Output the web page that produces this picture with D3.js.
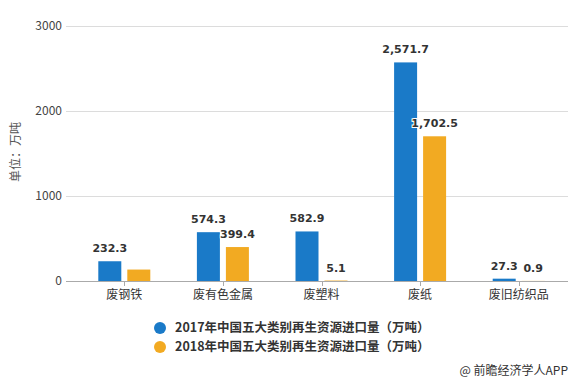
<!DOCTYPE html>
<html><head><meta charset="utf-8">
<script src="https://cdn.jsdelivr.net/npm/d3@7"></script>
<style>body{margin:0;background:#fff}svg{display:block}</style>
</head><body>
<svg id="c" width="581" height="387"></svg>
<script>
const categories = ["废钢铁","废有色金属","废塑料","废纸","废旧纺织品"];
const values2017 = [232.3, 574.3, 582.9, 2571.7, 27.3];
const values2018 = [134.6, 399.4, 5.1, 1702.5, 0.9];
const show2018Label = [false, true, true, true, true];
const seriesNames = ["2017年中国五大类别再生资源进口量（万吨）","2018年中国五大类别再生资源进口量（万吨）"];
const yTicks = [0, 1000, 2000, 3000];
const colors = ["#1a7ac8", "#f2aa22"];

const svg = d3.select("#c");
const font = "'Noto Sans CJK SC','Noto Sans',sans-serif";
const x = d3.scaleBand().domain(categories).range([75, 568]);
const y = d3.scaleLinear().domain([0, 3000]).range([281, 26]);
const barW = 23, gap = 6;

// grid
svg.append("g").selectAll("line").data(yTicks.filter(d=>d>0)).join("line")
  .attr("x1", 66).attr("x2", 568).attr("y1", d=>y(d)).attr("y2", d=>y(d))
  .attr("stroke", "#dcdcdc").attr("stroke-width", 1).attr("shape-rendering","crispEdges");

// y tick labels
svg.append("g").selectAll("text").data(yTicks).join("text")
  .attr("x", 62).attr("y", d=>y(d)+4).attr("text-anchor","end")
  .attr("font-family", font).attr("font-size", 12).attr("fill", "#444")
  .text(d=>d);

// y title
svg.append("text").attr("transform","translate(20,152) rotate(-90)")
  .attr("text-anchor","middle").attr("font-family", font).attr("font-size", 12)
  .attr("fill","#555").text("单位：万吨");

// bars
const g = svg.append("g");
const cx = c => x(c) + x.bandwidth()/2;
g.selectAll(".b17").data(categories).join("rect")
  .attr("x", (c)=>cx(c) - gap/2 - barW).attr("width", barW)
  .attr("y", (c,i)=>y(values2017[i])).attr("height",(c,i)=>y(0)-y(values2017[i]))
  .attr("fill", colors[0]);
g.selectAll(".b18").data(categories).join("rect")
  .attr("x", (c)=>cx(c) + gap/2).attr("width", barW)
  .attr("y", (c,i)=>y(values2018[i])).attr("height",(c,i)=>y(0)-y(values2018[i]))
  .attr("fill", colors[1]);

// axis
svg.append("line").attr("x1",66).attr("x2",568).attr("y1",y(0)+0.5).attr("y2",y(0)+0.5)
  .attr("stroke","#aaa");
svg.append("g").selectAll("line").data(categories).join("line")
  .attr("x1", c=>Math.round(cx(c))+0.5).attr("x2", c=>Math.round(cx(c))+0.5)
  .attr("y1", y(0)).attr("y2", y(0)+5).attr("stroke","#aaa");
svg.append("g").selectAll("text").data(categories).join("text")
  .attr("x", c=>cx(c)).attr("y", 299).attr("text-anchor","middle")
  .attr("font-family", font).attr("font-size", 12).attr("fill","#333").text(c=>c);

// labels
const fmt = d3.format(",.1f");
const lf = "'DejaVu Sans',sans-serif";
g.selectAll(".l17").data(categories).join("text")
  .attr("x", c=>cx(c) - gap/2 - barW/2).attr("y",(c,i)=>y(values2017[i]) - 9)
  .attr("text-anchor","middle").attr("font-family", lf).attr("font-weight","bold")
  .attr("font-size", 11).attr("fill","#333")
  .text((c,i)=>fmt(values2017[i]));
g.selectAll(".l18").data(categories.filter((c,i)=>show2018Label[i])).join("text")
  .attr("x", c=>cx(c) + gap/2 + barW/2)
  .attr("y", c=>y(values2018[categories.indexOf(c)]) - 9)
  .attr("text-anchor","middle").attr("font-family", lf).attr("font-weight","bold")
  .attr("font-size", 11).attr("fill","#333")
  .attr("stroke","#fff").attr("stroke-width",2).attr("paint-order","stroke")
  .text(c=>fmt(values2018[categories.indexOf(c)]));

// legend
const lg = svg.append("g");
seriesNames.forEach((s,i)=>{
  lg.append("circle").attr("cx",160).attr("cy",328+i*19).attr("r",6).attr("fill",colors[i]);
  lg.append("text").attr("x",175).attr("y",332+i*19).attr("font-family",font)
    .attr("font-weight","bold").attr("font-size",12.5).attr("fill","#333").text(s);
});

// source
svg.append("text").attr("x",568).attr("y",375).attr("text-anchor","end")
  .attr("font-family",font).attr("font-size",12).attr("fill","#333").text("@ 前瞻经济学人APP");
</script>
</body></html>
